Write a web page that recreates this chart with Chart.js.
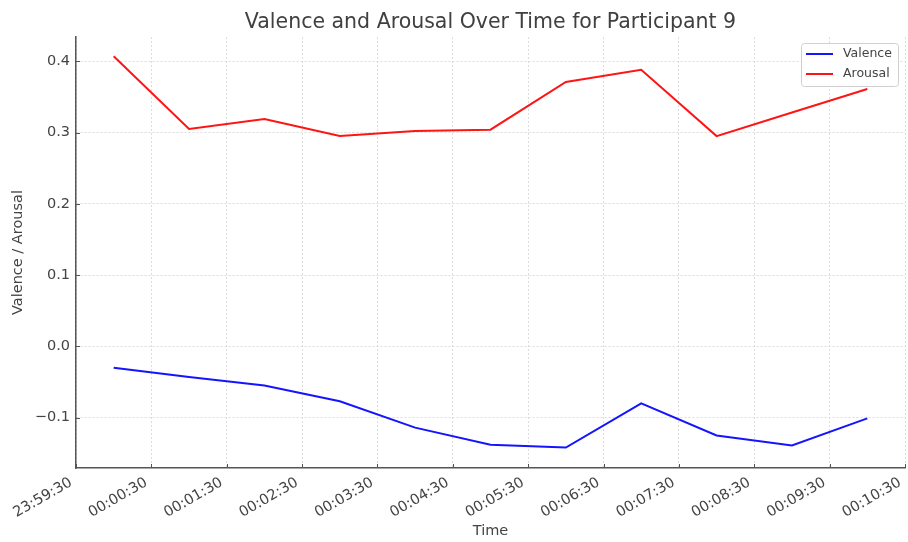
<!DOCTYPE html>
<html>
<head>
<meta charset="utf-8">
<script src="https://cdn.jsdelivr.net/npm/chart.js@4"></script>
<style>
  body { margin: 0; background: #fff; }
  #wrap { width: 908px; height: 542px; }
</style>
</head>
<body>
<div id="wrap"><canvas id="chart"></canvas></div>
<script>
// seconds from 00:00:00
const times = [0, 60, 120, 180, 240, 300, 360, 420, 480, 540, 600]
const valence = [-0.030, -0.043, -0.055, -0.077, -0.114, -0.138, -0.142, -0.080, -0.125, -0.139, -0.101]
const arousal = [0.407, 0.305, 0.319, 0.295, 0.302, 0.304, 0.371, 0.388, 0.295, 0.328, 0.361]
const xTicks = [-30, 30, 90, 150, 210, 270, 330, 390, 450, 510, 570, 630]
const yTicks = [-0.1, 0.0, 0.1, 0.2, 0.3, 0.4]
const titleText = 'Valence and Arousal Over Time for Participant 9'

const font = 'DejaVu Sans'
const textColor = '#444'
const axisColor = '#555'

function fmtTime(s) {
    let t = ((s % 86400) + 86400) % 86400
    const h = Math.floor(t / 3600), m = Math.floor((t % 3600) / 60), sec = t % 60
    return [h, m, sec].map(v => String(v).padStart(2, '0')).join(':')
}

// title over the plot area, legend inside the plot, inward tick marks
const extras = {
    id: 'extras',
    afterDraw(chart) {
        const ctx = chart.ctx
        const a = chart.chartArea
        const xs = chart.scales.x, ys = chart.scales.y
        ctx.save()

        ctx.fillStyle = '#404040'
        ctx.font = '20.5px "' + font + '"'
        ctx.textAlign = 'center'
        ctx.textBaseline = 'middle'
        ctx.fillText(titleText, (a.left + a.right) / 2, 23)

        ctx.strokeStyle = axisColor
        ctx.lineWidth = 1
        xTicks.forEach(v => {
            const x = Math.round(xs.getPixelForValue(v)) + 0.5
            ctx.beginPath(); ctx.moveTo(x, a.bottom); ctx.lineTo(x, a.bottom - 4); ctx.stroke()
        })
        yTicks.forEach(v => {
            const y = Math.round(ys.getPixelForValue(v)) + 0.5
            ctx.beginPath(); ctx.moveTo(a.left, y); ctx.lineTo(a.left + 4, y); ctx.stroke()
        })

        const w = 97, h = 43
        const bx = a.right - 7 - w, by = a.top + 6
        ctx.fillStyle = 'rgba(255,255,255,0.85)'
        ctx.strokeStyle = '#d0d0d0'
        ctx.beginPath()
        ctx.roundRect(bx + 0.5, by + 0.5, w, h, 3)
        ctx.fill(); ctx.stroke()
        ctx.font = '12.5px "' + font + '"'
        ctx.textAlign = 'left'
        ctx.textBaseline = 'middle'
        chart.data.datasets.forEach((ds, i) => {
            const y = by + 11 + i * 20
            ctx.strokeStyle = ds.borderColor
            ctx.lineWidth = 2
            ctx.beginPath(); ctx.moveTo(bx + 5, y); ctx.lineTo(bx + 32, y); ctx.stroke()
            ctx.fillStyle = textColor
            ctx.fillText(ds.label, bx + 42, y)
        })
        ctx.restore()
    }
}

const chart = new Chart(document.getElementById('chart'), {
    type: 'line',
    data: {
        datasets: [
            {
                label: 'Valence',
                data: times.map((t, i) => ({ x: t, y: valence[i] })),
                borderColor: 'rgb(20,20,255)',
                borderWidth: 2,
                pointRadius: 0,
                tension: 0
            },
            {
                label: 'Arousal',
                data: times.map((t, i) => ({ x: t, y: arousal[i] })),
                borderColor: 'rgb(255,20,20)',
                borderWidth: 2,
                pointRadius: 0,
                tension: 0
            }
        ]
    },
    options: {
        responsive: true,
        maintainAspectRatio: false,
        animation: false,
        layout: { padding: { left: 0, right: 3, top: 37, bottom: 0 } },
        plugins: {
            legend: { display: false },
            tooltip: { enabled: false },
            title: { display: false }
        },
        scales: {
            x: {
                type: 'linear',
                min: -30,
                max: 630,
                afterBuildTicks: s => { s.ticks = xTicks.map(v => ({ value: v })) },
                afterFit: s => { s.height = 74; s.paddingLeft = 0; s.paddingRight = 0 },
                ticks: {
                    color: textColor,
                    font: { family: font, size: 14.5 },
                    minRotation: 30,
                    maxRotation: 30,
                    padding: 6,
                    labelOffset: -5,
                    callback: v => fmtTime(v)
                },
                grid: { color: '#dcdcdc', lineWidth: 1, drawTicks: false },
                border: { color: axisColor, width: 1.5, dash: [2, 2] },
                title: {
                    display: true,
                    text: 'Time',
                    color: textColor,
                    font: { family: font, size: 14.5 },
                    padding: { top: 0, bottom: 2 }
                }
            },
            y: {
                min: -0.1706,
                max: 0.434,
                afterBuildTicks: s => { s.ticks = yTicks.map(v => ({ value: v })) },
                afterFit: s => { s.width = 76 },
                ticks: {
                    color: textColor,
                    font: { family: font, size: 14.5 },
                    padding: 6,
                    callback: v => v.toFixed(1).replace('-', '\u2212')
                },
                grid: { color: '#dcdcdc', lineWidth: 1, drawTicks: false },
                border: { color: axisColor, width: 1.5, dash: [2, 2] },
                title: {
                    display: true,
                    text: 'Valence / Arousal',
                    color: textColor,
                    font: { family: font, size: 14.5 },
                    padding: { top: 10, bottom: 0 }
                }
            }
        }
    },
    plugins: [extras]
})
</script>
</body>
</html>
